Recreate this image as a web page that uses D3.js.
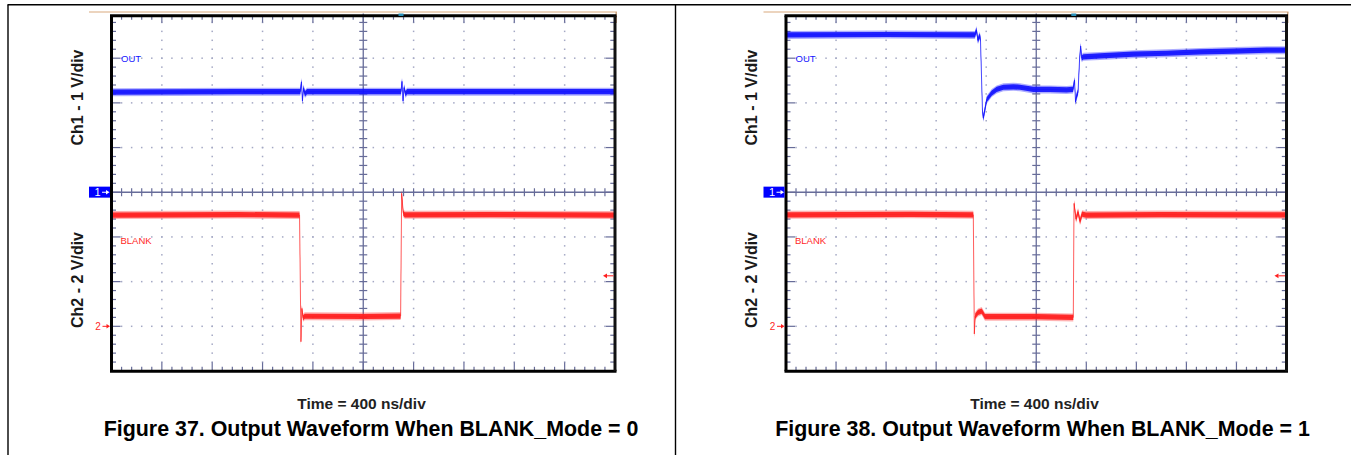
<!DOCTYPE html>
<html><head><meta charset="utf-8">
<script src="https://cdn.jsdelivr.net/npm/d3@7"></script>
<style>
html,body{margin:0;padding:0;background:#fff;}
svg{display:block;font-family:"Liberation Sans",Arial,sans-serif;}
</style></head><body>
<svg id="c" width="1351" height="455"></svg>
<script>
// ---------------- data ----------------
const timeDomain = [0, 4000];          // ns across 10 divisions (400 ns/div)
const timePerDiv = 400;
const timeMinor = 80;
const ch1Domain = [-4, 4];             // V, 1 V/div, ground at centre
const ch1PerDiv = 1;
const ch2Domain = [-2, 14];            // V, 2 V/div, ground 1 div above bottom
const ch2PerDiv = 2;
const triggerTime = 2300;              // ns
const ch2TriggerLevel = 2.26;          // V

const figureTitles = ["Figure 37. Output Waveform When BLANK_Mode = 0",
                      "Figure 38. Output Waveform When BLANK_Mode = 1"];
const timeLabel = "Time = 400 ns/div";
const ch1AxisLabel = "Ch1 - 1 V/div";
const ch2AxisLabel = "Ch2 - 2 V/div";
const ch1Name = "OUT";
const ch2Name = "BLANK";
const ch1Marker = "1";
const ch2Marker = "2";

// Figure 37 (BLANK_Mode = 0)
const fig37OutT   = [0, 1000, 1500, 1509, 1517, 1525, 1537, 1553, 2000, 2300, 2308, 2316, 2324, 2336, 2348, 3000, 4000];
const fig37OutV   = [2.24, 2.25, 2.25, 2.47, 2.04, 2.33, 2.20, 2.25, 2.25, 2.25, 2.48, 2.04, 2.34, 2.20, 2.25, 2.25, 2.25];
const fig37BlankT = [0, 1000, 1494, 1505, 1512, 1522, 1535, 2000, 2297, 2305, 2318, 2330, 3000, 4000];
const fig37BlankV = [4.98, 5.00, 4.98, -0.69, 0.80, 0.38, 0.45, 0.44, 0.46, 5.95, 5.06, 4.99, 5.00, 4.98];

// Figure 38 (BLANK_Mode = 1)
const fig38OutT   = [0, 800, 1510, 1522, 1534, 1546, 1554, 1570, 1577, 1604, 1644, 1684, 1737, 1817, 1870, 1976, 2110, 2243, 2294,
                     2306, 2314, 2322, 2334, 2346, 2355, 2363, 2376, 2510, 2776, 3043, 3310, 3577, 3843, 4000];
const fig38OutV   = [3.52, 3.53, 3.52, 3.63, 3.40, 3.50, 3.44, 1.84, 1.66, 2.07, 2.22, 2.30, 2.35, 2.36, 2.35, 2.30, 2.30, 2.29, 2.30,
                     2.51, 2.02, 2.15, 2.24, 2.96, 3.27, 3.00, 3.03, 3.05, 3.09, 3.11, 3.14, 3.16, 3.18, 3.18];
const fig38BlankT = [0, 1000, 1497, 1505, 1512, 1535, 1564, 1590, 2000, 2296, 2302, 2318, 2334, 2350, 2366, 2398, 3000, 4000];
const fig38BlankV = [4.99, 5.01, 4.99, -0.34, 0.46, 0.62, 0.68, 0.43, 0.43, 0.40, 5.50, 4.80, 5.12, 4.70, 5.02, 4.98, 5.00, 4.99];

// ---------------- layout / style ----------------
const panels = [
  {x0: 111.5, x1: 615,    labelX: 83,  timeCx: 361.5,  titleCx: 371,
   outT: fig37OutT, outV: fig37OutV, blankT: fig37BlankT, blankV: fig37BlankV, title: figureTitles[0]},
  {x0: 786,   x1: 1286.5, labelX: 757, timeCx: 1034.5, titleCx: 1042.5,
   outT: fig38OutT, outV: fig38OutV, blankT: fig38BlankT, blankV: fig38BlankV, title: figureTitles[1]}
];
const Y0 = 13.5, Y1 = 371;
const gridCol = "#676c99", dotCol = "#a4a8c4";
const blueCol = "#1414ff", redCol = "#ff1f1f";

const svg = d3.select("#c");

// outer frame
svg.append("line").attr("x1", 7.5).attr("x2", 1351).attr("y1", 4.7).attr("y2", 4.7).attr("stroke", "#000").attr("stroke-width", 1.4);
svg.append("line").attr("x1", 8).attr("x2", 8).attr("y1", 4.7).attr("y2", 455).attr("stroke", "#000").attr("stroke-width", 1.4);
svg.append("line").attr("x1", 675.5).attr("x2", 675.5).attr("y1", 4.7).attr("y2", 455).attr("stroke", "#000").attr("stroke-width", 1.4);

panels.forEach(p => {
  const g = svg.append("g");
  const x = d3.scaleLinear().domain(timeDomain).range([p.x0, p.x1]);
  const y1s = d3.scaleLinear().domain(ch1Domain).range([Y1, Y0]);
  const y2s = d3.scaleLinear().domain(ch2Domain).range([Y1, Y0]);

  const majorT = d3.range(timeDomain[0], timeDomain[1] + 1, timePerDiv);
  const minorT = d3.range(timeDomain[0], timeDomain[1] + 1, timeMinor);
  const majorV = d3.range(ch1Domain[0], ch1Domain[1] + 0.001, ch1PerDiv);
  const minorV = d3.range(ch1Domain[0], ch1Domain[1] + 0.001, ch1PerDiv / 5);
  const tMid = (timeDomain[0] + timeDomain[1]) / 2;
  const isMajT = t => Math.abs(t / timePerDiv - Math.round(t / timePerDiv)) < 1e-6;
  const isMajV = v => Math.abs(v / ch1PerDiv - Math.round(v / ch1PerDiv)) < 1e-6;

  // tan line above plot
  g.append("line").attr("x1", p.x0 - 22.5).attr("x2", p.x1 + 2).attr("y1", 12).attr("y2", 12)
    .attr("stroke", "#d9a97e").attr("stroke-width", 1.1);
  g.append("line").attr("x1", p.x1 + 1.2).attr("x2", p.x1 + 1.2).attr("y1", 12).attr("y2", 23)
    .attr("stroke", "#c9a27e").attr("stroke-width", 1.5);

  // dotted grid
  const dots = [];
  majorT.filter(t => t > timeDomain[0] && t < timeDomain[1] && t !== tMid).forEach(t => {
    minorV.filter(v => v > ch1Domain[0] && v < ch1Domain[1]).forEach(v => dots.push([x(t), y1s(v)]));
  });
  majorV.filter(v => v > ch1Domain[0] && v < ch1Domain[1] && v !== 0).forEach(v => {
    minorT.filter(t => t > timeDomain[0] && t < timeDomain[1]).forEach(t => dots.push([x(t), y1s(v)]));
  });
  g.append("g").selectAll("rect").data(dots).join("rect")
    .attr("x", d => d[0] - 0.75).attr("y", d => d[1] - 0.75).attr("width", 1.5).attr("height", 1.5)
    .attr("fill", dotCol);

  // centre cross
  g.append("line").attr("x1", p.x0).attr("x2", p.x1).attr("y1", y1s(0)).attr("y2", y1s(0))
    .attr("stroke", gridCol).attr("stroke-width", 1.3);
  g.append("line").attr("x1", x(tMid)).attr("x2", x(tMid)).attr("y1", Y0).attr("y2", Y1)
    .attr("stroke", gridCol).attr("stroke-width", 1.3);
  const cT = minorT.filter(t => t > timeDomain[0] && t < timeDomain[1] && t !== tMid);
  g.append("g").selectAll("line").data(cT).join("line")
    .attr("x1", d => x(d)).attr("x2", d => x(d)).attr("y1", y1s(0) - 4).attr("y2", y1s(0) + 4)
    .attr("stroke", gridCol).attr("stroke-width", 1.2);
  const cV = minorV.filter(v => v > ch1Domain[0] && v < ch1Domain[1] && v !== 0);
  g.append("g").selectAll("line").data(cV).join("line")
    .attr("x1", x(tMid) - 4).attr("x2", x(tMid) + 4).attr("y1", d => y1s(d)).attr("y2", d => y1s(d))
    .attr("stroke", gridCol).attr("stroke-width", 1.2);

  // edge ticks
  const eT = minorT.filter(t => t > timeDomain[0] && t < timeDomain[1]);
  const eV = minorV.filter(v => v > ch1Domain[0] && v < ch1Domain[1]);
  const topY = 15.7, botY = 371.3;
  g.append("g").selectAll("line").data(eT).join("line")
    .attr("x1", d => x(d)).attr("x2", d => x(d)).attr("y1", topY).attr("y2", d => topY + (isMajT(d) ? 7 : 4))
    .attr("stroke", gridCol).attr("stroke-width", 1.2);
  g.append("g").selectAll("line").data(eT).join("line")
    .attr("x1", d => x(d)).attr("x2", d => x(d)).attr("y1", botY).attr("y2", d => botY - (isMajT(d) ? 9 : 4.5))
    .attr("stroke", gridCol).attr("stroke-width", 1.2);
  g.append("g").selectAll("line").data(eV).join("line")
    .attr("x1", p.x0).attr("x2", d => p.x0 + (isMajV(d) ? 9 : 4.5)).attr("y1", d => y1s(d)).attr("y2", d => y1s(d))
    .attr("stroke", gridCol).attr("stroke-width", 1.2);
  g.append("g").selectAll("line").data(eV).join("line")
    .attr("x1", p.x1 - 0.7).attr("x2", d => p.x1 - 0.7 - (isMajV(d) ? 8.5 : 4)).attr("y1", d => y1s(d)).attr("y2", d => y1s(d))
    .attr("stroke", gridCol).attr("stroke-width", 1.2);

  // traces
  function trace(T, V, ys, col) {
    const pts = T.map((t, i) => [x(t), ys(V[i])]);
    const band = h => d3.area().x(d => d[0]).y0(d => d[1] - h).y1(d => d[1] + h);
    g.append("path").attr("d", band(4.0)(pts)).attr("fill", col).attr("opacity", 0.35);
    g.append("path").attr("d", band(2.6)(pts)).attr("fill", col).attr("opacity", 0.92);
    g.append("path").attr("d", d3.line()(pts)).attr("fill", "none").attr("stroke", col)
      .attr("stroke-width", 1).attr("opacity", 0.7);
  }
  trace(p.outT, p.outV, y1s, blueCol);
  trace(p.blankT, p.blankV, y2s, redCol);

  // border
  g.append("line").attr("x1", p.x0 - 1.5).attr("x2", p.x1 + 1.5).attr("y1", topY).attr("y2", topY).attr("stroke", "#000").attr("stroke-width", 3);
  g.append("line").attr("x1", p.x0 - 1.5).attr("x2", p.x1 + 1.5).attr("y1", botY).attr("y2", botY).attr("stroke", "#000").attr("stroke-width", 3);
  g.append("line").attr("x1", p.x0).attr("x2", p.x0).attr("y1", topY).attr("y2", botY).attr("stroke", "#000").attr("stroke-width", 3);
  g.append("line").attr("x1", p.x1).attr("x2", p.x1).attr("y1", topY).attr("y2", botY).attr("stroke", "#111").attr("stroke-width", 3);

  // trigger time marker
  g.append("rect").attr("x", x(triggerTime) - 2.5).attr("y", Y0).attr("width", 5).attr("height", 2.5).attr("fill", "#2a8fb8");

  // channel labels inside
  g.append("text").attr("x", p.x0 + 9.5).attr("y", y1s(3) + 3.4).attr("font-size", 9.5).attr("fill", blueCol).text(ch1Name);
  g.append("text").attr("x", p.x0 + 9).attr("y", y2s(ch2PerDiv * 2) + 6.8).attr("font-size", 9.5).attr("fill", redCol).text(ch2Name);

  // ch1 ground marker
  const gy1 = y1s(0);
  g.append("rect").attr("x", p.x0 - 22.5).attr("y", gy1 - 5.6).attr("width", 21).attr("height", 11).attr("fill", "#0000ff");
  g.append("text").attr("x", p.x0 - 14).attr("y", gy1 + 4).attr("font-size", 11).attr("text-anchor", "middle").attr("fill", "#fff").text(ch1Marker);
  g.append("line").attr("x1", p.x0 - 9.5).attr("x2", p.x0 - 4).attr("y1", gy1).attr("y2", gy1).attr("stroke", "#fff").attr("stroke-width", 1);
  g.append("path").attr("d", `M${p.x0 - 2},${gy1} l-3.5,-2.2 v4.4 z`).attr("fill", "#fff");

  // ch2 ground marker
  const gy2 = y2s(0);
  g.append("text").attr("x", p.x0 - 13.5).attr("y", gy2 + 3.6).attr("font-size", 10).attr("text-anchor", "middle").attr("fill", redCol).text(ch2Marker);
  g.append("line").attr("x1", p.x0 - 9).attr("x2", p.x0 - 4).attr("y1", gy2).attr("y2", gy2).attr("stroke", redCol).attr("stroke-width", 1);
  g.append("path").attr("d", `M${p.x0 - 1.5},${gy2} l-3.5,-2.2 v4.4 z`).attr("fill", redCol);

  // ch2 trigger level marker
  const ty = y2s(ch2TriggerLevel);
  g.append("line").attr("x1", p.x1 - 8).attr("x2", p.x1 - 1.5).attr("y1", ty).attr("y2", ty).attr("stroke", redCol).attr("stroke-width", 1);
  g.append("path").attr("d", `M${p.x1 - 12},${ty} l4,-2.4 v4.8 z`).attr("fill", redCol);

  // axis titles
  g.append("text").attr("transform", `translate(${p.labelX},${Y0 + 84}) rotate(-90)`)
    .attr("text-anchor", "middle").attr("font-size", 16).attr("font-weight", "bold").attr("fill", "#1a1a1a").text(ch1AxisLabel);
  g.append("text").attr("transform", `translate(${p.labelX},${Y0 + 266.5}) rotate(-90)`)
    .attr("text-anchor", "middle").attr("font-size", 16).attr("font-weight", "bold").attr("fill", "#1a1a1a").text(ch2AxisLabel);
  g.append("text").attr("x", p.timeCx).attr("y", 409).attr("text-anchor", "middle")
    .attr("font-size", 15.5).attr("font-weight", "bold").attr("fill", "#222").text(timeLabel);
  g.append("text").attr("x", p.titleCx).attr("y", 436).attr("text-anchor", "middle")
    .attr("font-size", 21.4).attr("font-weight", "bold").attr("fill", "#000").text(p.title);
});
</script>
</body></html>
